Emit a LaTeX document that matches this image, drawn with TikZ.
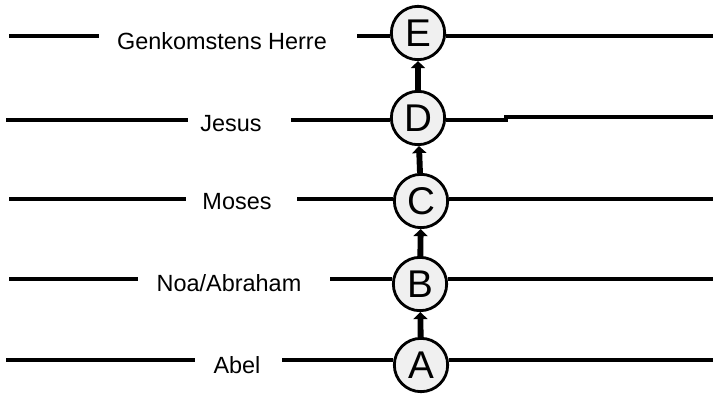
\documentclass[tikz,border=0pt]{standalone}
\usepackage{fontspec}
\setmainfont{Liberation Sans}
\usetikzlibrary{arrows.meta, positioning}
\tikzset{
  era/.style={circle, draw=black, line width=2.4pt, fill=gray!12,
    minimum size=1.6cm, inner sep=0pt, font=\fontsize{33}{33}\selectfont},
  who/.style={font=\fontsize{20}{23}\selectfont, inner sep=0pt},
  hline/.style={line width=2.6pt},
  lift/.style={line width=5pt, -{Triangle[width=12pt, length=6pt]}},
}
\begin{document}
\begin{tikzpicture}[x=0.03cm, y=-0.03cm]
\useasboundingbox (0,0) rectangle (713,394);

% stations
\node[era] (E) at (418,33)  {E};
\node[era] (D) at (418,118) {D};
\node[era] (C) at (421,201) {C};
\node[era] (B) at (420,284) {B};
\node[era] (A) at (421,365) {A};

% names
\node[who] (tE) at (222,41)  {Genkomstens Herre};
\node[who] (tD) at (231,124) {Jesus};
\node[who] (tC) at (237,202) {Moses};
\node[who] (tB) at (229,283) {Noa/Abraham};
\node[who] (tA) at (237,365) {Abel};

% line ends
\coordinate (eL1) at (9,36);   \coordinate (eL2) at (99,36);
\coordinate (eR1) at (357,36); \coordinate (eR2) at (713,36);
\coordinate (dL1) at (6,120);  \coordinate (dL2) at (188,120);
\coordinate (dR1) at (291,120); \coordinate (dR2) at (506,120);
\coordinate (dR3) at (506,117); \coordinate (dR4) at (713,117);
\coordinate (cL1) at (9,199);  \coordinate (cL2) at (186,199);
\coordinate (cR1) at (297,199); \coordinate (cR2) at (713,199);
\coordinate (bL1) at (9,279);  \coordinate (bL2) at (138,279);
\coordinate (bR1) at (330,279); \coordinate (bR2) at (713,279);
\coordinate (aL1) at (6,360);  \coordinate (aL2) at (195,360);
\coordinate (aR1) at (282,360); \coordinate (aR2) at (713,360);

\draw[hline] (eL1) -- (eL2);
\draw[hline] (eR1) -- (E.west |- eR1);
\draw[hline] (E.east |- eR2) -- (eR2);
\draw[hline] (dL1) -- (dL2);
\draw[hline] (dR1) -- (D.west |- dR1);
\draw[hline] (D.east |- dR2) -- (dR2) -- (dR3) -- (dR4);
\draw[hline] (cL1) -- (cL2);
\draw[hline] (cR1) -- (C.west |- cR1);
\draw[hline] (C.east |- cR2) -- (cR2);
\draw[hline] (bL1) -- (bL2);
\draw[hline] (bR1) -- (B.west |- bR1);
\draw[hline] (B.east |- bR2) -- (bR2);
\draw[hline] (aL1) -- (aL2);
\draw[hline] (aR1) -- (A.west |- aR1);
\draw[hline] (A.east |- aR2) -- (aR2);

% succession
\draw[lift] (A) -- (B);
\draw[lift] (B) -- (C);
\draw[lift] (C) -- (D);
\draw[lift] (D) -- (E);

\end{tikzpicture}
\end{document}
